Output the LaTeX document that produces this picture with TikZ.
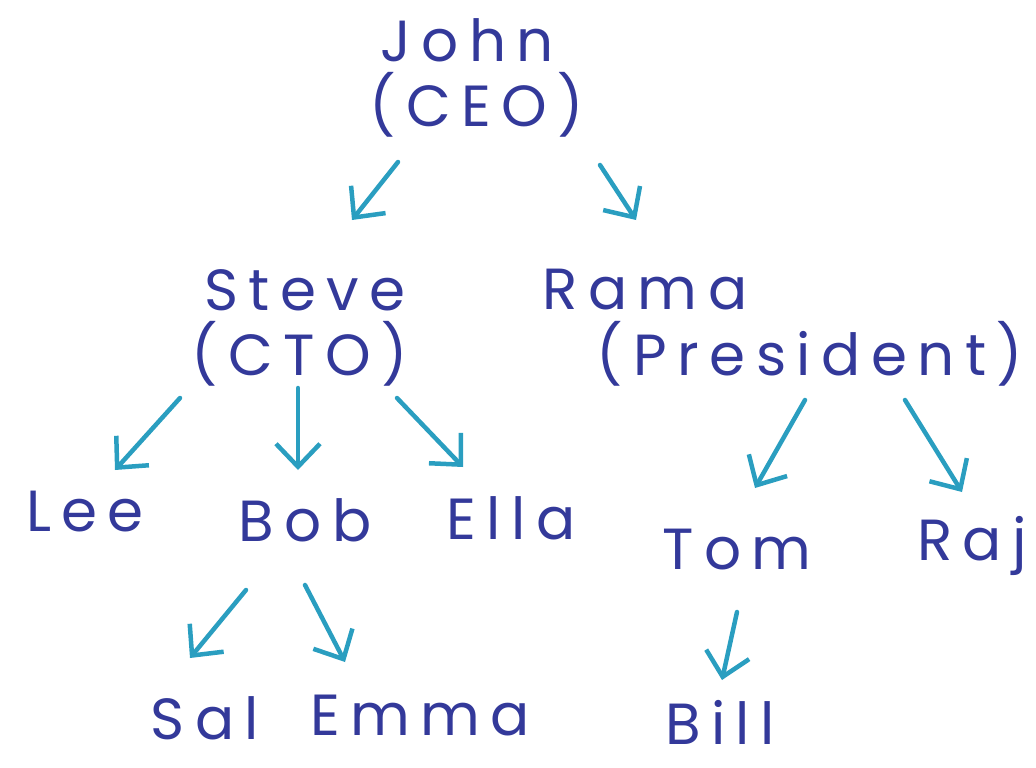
\documentclass[tikz,border=0pt]{standalone}
\usepackage{fontspec}
\setmainfont{Poppins}[LetterSpace=18]
\usetikzlibrary{arrows.meta}
\definecolor{ink}{HTML}{33399A}
\definecolor{pen}{HTML}{2A9EC0}
\begin{document}
\begin{tikzpicture}[x=1pt,y=-1pt,
  person/.style={text=ink,font=\fontsize{58}{64}\selectfont,inner sep=0pt,anchor=center},
  link/.style={draw=pen,line width=4.5pt,line cap=round,
    -{Straight Barb[length=23pt,width=44pt,line width=4.5pt]}}]
\useasboundingbox (0,0) rectangle (1036,768);
% names and titles
\node[person] (john)  at (467,40)  {John};
\node[person] (ceo)   at (477,105) {(CEO)};
\node[person] (steve) at (305,290) {Steve};
\node[person] (cto)   at (300,354) {(CTO)};
\node[person] (rama)  at (645,290) {Rama};
\node[person] (pres)  at (810,354) {(President)};
\node[person] (lee)   at (85,512)  {Lee};
\node[person] (bob)   at (305,520) {Bob};
\node[person] (ella)  at (511,518) {Ella};
\node[person] (tom)   at (737,550) {Tom};
\node[person] (raj)   at (972,546) {Raj};
\node[person] (sal)   at (205,718) {Sal};
\node[person] (emma)  at (420,716) {Emma};
\node[person] (bill)  at (720,722) {Bill};
% arrow end points
\coordinate (j1) at (398,162); \coordinate (j1e) at (352,220);
\coordinate (j2) at (600,165); \coordinate (j2e) at (636,220);
\coordinate (s1) at (180,398); \coordinate (s1e) at (115,470);
\coordinate (s2) at (298,388); \coordinate (s2e) at (298,470);
\coordinate (s3) at (397,398); \coordinate (s3e) at (463,467);
\coordinate (r1) at (805,400); \coordinate (r1e) at (755,488);
\coordinate (r2) at (905,400); \coordinate (r2e) at (962,492);
\coordinate (b1) at (246,590); \coordinate (b1e) at (190,658);
\coordinate (b2) at (305,585); \coordinate (b2e) at (345,662);
\coordinate (t1) at (737,612); \coordinate (t1e) at (722,680);
% reporting lines
\draw[link] (j1) -- (j1e);
\draw[link] (j2) -- (j2e);
\draw[link] (s1) -- (s1e);
\draw[link] (s2) -- (s2e);
\draw[link] (s3) -- (s3e);
\draw[link] (r1) -- (r1e);
\draw[link] (r2) -- (r2e);
\draw[link] (b1) -- (b1e);
\draw[link] (b2) -- (b2e);
\draw[link] (t1) -- (t1e);
\end{tikzpicture}
\end{document}
